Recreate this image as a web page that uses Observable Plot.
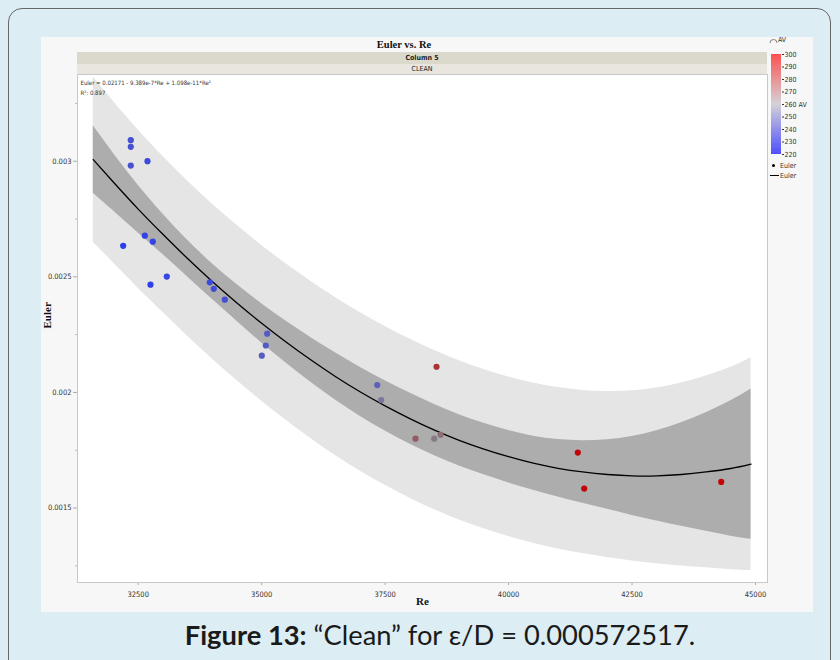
<!DOCTYPE html>
<html><head><meta charset="utf-8">
<script src="https://cdn.jsdelivr.net/npm/d3@7"></script>
<script src="https://cdn.jsdelivr.net/npm/@observablehq/plot@0.6"></script>
<style>
html,body{margin:0;padding:0;width:840px;height:660px;overflow:hidden;background:#dcedf3;font-family:"Liberation Sans",sans-serif;}
#frame{position:absolute;left:8px;top:8px;width:823px;height:690px;border:1.5px solid #666;border-radius:14px;box-sizing:border-box;}
#panel{position:absolute;left:41px;top:37px;width:772px;height:575px;background:#f7f7f7;}
.abs{position:absolute;}
#title{left:0;top:39px;width:808px;text-align:center;font:bold 10.5px "Liberation Serif",serif;color:#111;}
.band{position:absolute;left:77px;width:690px;text-align:center;font:7px "Liberation Sans Narrow","DejaVu Sans Condensed",sans-serif;color:#222;}
#caption{left:40px;top:619px;width:800px;text-align:center;font:27.3px/32px Lato,"Open Sans",sans-serif;color:#1a1a1a;}
.leg{font:7px "Liberation Sans Narrow","DejaVu Sans Condensed",sans-serif;color:#333;}
</style></head><body>
<div id="frame"></div>
<div id="panel"></div>
<div id="title" class="abs">Euler vs. Re</div>
<div class="band" style="top:51.5px;height:12px;line-height:12px;background:#dbd9cc;font-weight:bold;">Column 5</div>
<div class="band" style="top:63.5px;height:10.5px;line-height:10.5px;background:#e8e6de;">CLEAN</div>
<div id="main" class="abs" style="left:41px;top:74px;"></div>
<div id="legend" class="abs" style="left:760px;top:50px;"></div>
<div class="abs leg" style="left:769px;top:36px;">
<svg width="9" height="7" style="vertical-align:middle"><path d="M1,6 A3.5,3.5 0 0 1 8,6" fill="none" stroke="#666" stroke-width="0.8"/></svg>AV</div>
<div class="abs leg" style="left:770px;top:161px;line-height:10px;">
<div><span style="display:inline-block;width:3px;height:3px;border-radius:2px;background:#000;margin:0 5px 1px 2px;"></span>Euler</div>
<div><span style="display:inline-block;width:9px;height:1px;background:#000;margin:0 1px 2px 0;"></span>Euler</div>
</div>
<div id="caption" class="abs"><b>Figure 13:</b> “Clean” for ε/D = 0.000572517.</div>
<script>
// Data points
const re = [32350,32350,32350,32688,32634,32796,32196,32749,33079,33950,34031,34254,35112,35084,35003,38541,37340,37421,38115,38494,38622,41402,41532,44306];
const euler = [0.003091,0.003062,0.002981,0.003000,0.002678,0.002652,0.002634,0.002466,0.002501,0.002476,0.002448,0.002401,0.002254,0.002203,0.002159,0.002111,0.002032,0.001967,0.0018,0.0018,0.001817,0.00174,0.001584,0.001613];
const av = [232,232,233,228,224,225,221,222,226,228,230,232,238,238,240,284,242,255,272,262,266,298,298,298];

// Fit line and bands
const fitRe = [31590,32000,32500,33000,33500,34000,34500,35000,35500,36000,36500,37000,37500,38000,38500,39000,39500,40000,40500,41000,41500,42000,42500,43000,43500,44000,44500,44910];
const fitEuler = [0.003007,0.002909,0.002793,0.002684,0.002579,0.002480,0.002387,0.002299,0.002217,0.002140,0.002068,0.002002,0.001942,0.001887,0.001837,0.001793,0.001755,0.001722,0.001694,0.001672,0.001656,0.001645,0.001639,0.001639,0.001645,0.001656,0.001671,0.001690];
const confLow = [0.0028611,0.0027844,0.0026897,0.0025961,0.0024997,0.0024031,0.0023075,0.0022142,0.0021260,0.0020430,0.0019659,0.0018960,0.0018334,0.0017769,0.0017263,0.0016821,0.0016435,0.0016088,0.0015770,0.0015479,0.0015208,0.0014943,0.0014683,0.0014439,0.0014213,0.0013998,0.0013785,0.0013652];
const confHigh = [0.0031529,0.0030336,0.0028963,0.0027719,0.0026583,0.0025569,0.0024665,0.0023838,0.0023080,0.0022370,0.0021701,0.0021080,0.0020506,0.0019971,0.0019477,0.0019039,0.0018665,0.0018352,0.0018110,0.0017961,0.0017912,0.0017957,0.0018097,0.0018341,0.0018687,0.0019122,0.0019635,0.0020148];
const predLow = [0.0026499,0.0025600,0.0024510,0.0023464,0.0022435,0.0021450,0.0020515,0.0019622,0.0018785,0.0017999,0.0017264,0.0016592,0.0015984,0.0015429,0.0014927,0.0014486,0.0014105,0.0013769,0.0013476,0.0013232,0.0013031,0.0012859,0.0012710,0.0012591,0.0012496,0.0012414,0.0012330,0.0012298];
const predHigh = [0.0033641,0.0032580,0.0031350,0.0030216,0.0029145,0.0028150,0.0027225,0.0026358,0.0025555,0.0024801,0.0024096,0.0023448,0.0022856,0.0022311,0.0021813,0.0021374,0.0020995,0.0020671,0.0020404,0.0020208,0.0020089,0.0020041,0.0020070,0.0020189,0.0020404,0.0020706,0.0021090,0.0021502];

const xTicks = [32500,35000,37500,40000,42500,45000];
const yTicks = [0.0015,0.002,0.0025,0.003];
const yMinor = [0.00125,0.00175,0.00225,0.00275,0.00325];
const eqText = ["Euler = 0.02171 - 9.389e-7*Re + 1.098e-11*Re²","R²: 0.897"];
const legendTicks = [220,230,240,250,260,270,280,290,300];

const pts = re.map((r,i)=>({re:r,euler:euler[i],av:av[i]}));
const fit = fitRe.map((r,i)=>({re:r,f:fitEuler[i],c1:confLow[i],c2:confHigh[i],p1:predLow[i],p2:predHigh[i]}));
const narrow = "'Liberation Sans Narrow','DejaVu Sans Condensed',sans-serif";

const main = Plot.plot({
  width:729,height:538,marginLeft:36,marginRight:3,marginTop:0,marginBottom:30,
  style:{background:"transparent",fontFamily:narrow,fontSize:"7.5px",color:"#333"},
  x:{domain:[31271,45243]},
  y:{domain:[0.001178,0.003375]},
  color:{type:"linear",domain:[220,260,300],range:["#2a3cf0","#85808c","#c30000"],interpolate:"rgb"},
  marks:[
    Plot.frame({fill:"white",stroke:"none"}),
    Plot.areaY(fit,{x:"re",y1:"p1",y2:"p2",fill:"#e5e5e5",curve:"natural"}),
    Plot.areaY(fit,{x:"re",y1:"c1",y2:"c2",fill:"#adadad",curve:"natural"}),
    Plot.line(fit,{x:"re",y:"f",stroke:"#000",strokeWidth:1.3,curve:"natural"}),
    Plot.dot(pts,{x:"re",y:"euler",fill:"av",r:3.1}),
    Plot.text([eqText.join("\n")],{frameAnchor:"top-left",text:d=>d,dx:3,dy:4,lineAnchor:"top",lineHeight:1.6,fontSize:6,fill:"#333"}),
    Plot.axisX(xTicks,{tickSize:3,tickFormat:d=>String(d),label:null,stroke:"#aaa",color:"#333"}),
    Plot.axisY(yTicks,{tickSize:4,tickPadding:2,tickFormat:d=>String(d),label:null,stroke:"#aaa",color:"#333"}),
    Plot.axisY(yMinor,{tickSize:2,tickFormat:()=>"",label:null,stroke:"#bbb"}),
    Plot.text(["Euler"],{frameAnchor:"left",text:d=>d,dx:-30,rotate:-90,fontFamily:"Liberation Serif",fontWeight:"bold",fontSize:11,fill:"#111"}),
    Plot.text(["Re"],{frameAnchor:"bottom",text:d=>d,dy:22,fontFamily:"Liberation Serif",fontWeight:"bold",fontSize:11,fill:"#111"}),
    Plot.frame({stroke:"#c8c8c8"})
  ]
});
document.getElementById("main").appendChild(main);

const legendVals = d3.range(220,300,0.5);
const leg = Plot.plot({
  width:53,height:110,marginLeft:11,marginRight:32,marginTop:4,marginBottom:6,
  style:{background:"transparent",fontFamily:narrow,fontSize:"7px",color:"#333"},
  x:{domain:[0,1],axis:null},
  y:{domain:[220,300],ticks:legendTicks,tickFormat:d=>d===260?"260 AV":String(d),tickSize:2,tickPadding:1,label:null,axis:"right"},
  color:{type:"linear",domain:[220,260,300],range:["#1c1cff","#c9c6cc","#ff1c1c"],interpolate:"rgb"},
  marks:[Plot.rect(legendVals,{x1:0,x2:1,y1:d=>d,y2:d=>d+0.5,fill:d=>d})]
});
document.getElementById("legend").appendChild(leg);
</script></body></html>
